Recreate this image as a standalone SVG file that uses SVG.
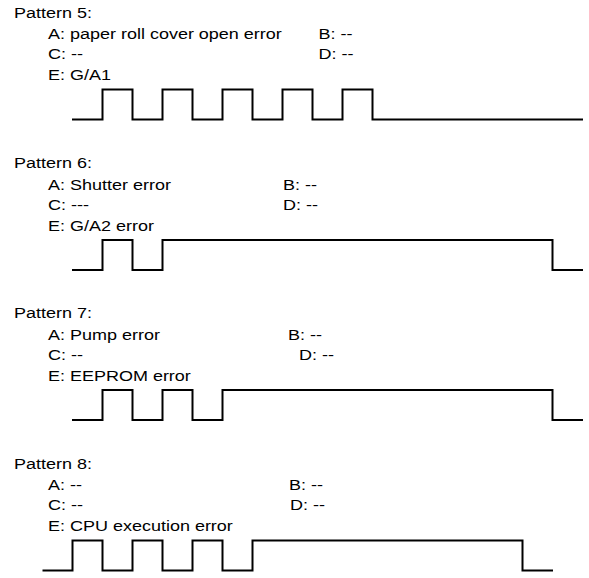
<svg xmlns="http://www.w3.org/2000/svg" width="589" height="578" viewBox="0 0 589 578">
<style>
text{font-family:"Liberation Sans",Arial,sans-serif;font-size:15px;fill:#000}
.w{fill:none;stroke:#000;stroke-width:2;stroke-linejoin:miter;stroke-linecap:butt}
</style>
<rect width="589" height="578" fill="#fff"/>
<g id="pattern5">
<text transform="translate(14,17.5) scale(1.2,1)">Pattern 5:</text>
<text transform="translate(48,39) scale(1.2,1)">A: paper roll cover open error</text>
<text transform="translate(318.5,39) scale(1.2,1)">B: --</text>
<text transform="translate(48,59) scale(1.2,1)">C: --</text>
<text transform="translate(318.5,59) scale(1.2,1)">D: --</text>
<text transform="translate(48,80) scale(1.2,1)">E: G/A1</text>
</g>
<g id="pattern6">
<text transform="translate(14,168) scale(1.2,1)">Pattern 6:</text>
<text transform="translate(48,189.5) scale(1.2,1)">A: Shutter error</text>
<text transform="translate(283,189.5) scale(1.2,1)">B: --</text>
<text transform="translate(48,209.5) scale(1.2,1)">C: ---</text>
<text transform="translate(283,209.5) scale(1.2,1)">D: --</text>
<text transform="translate(48,230.5) scale(1.2,1)">E: G/A2 error</text>
</g>
<g id="pattern7">
<text transform="translate(14,318) scale(1.2,1)">Pattern 7:</text>
<text transform="translate(48,339.5) scale(1.2,1)">A: Pump error</text>
<text transform="translate(288,339.5) scale(1.2,1)">B: --</text>
<text transform="translate(48,359.5) scale(1.2,1)">C: --</text>
<text transform="translate(299,359.5) scale(1.2,1)">D: --</text>
<text transform="translate(48,380.5) scale(1.2,1)">E: EEPROM error</text>
</g>
<g id="pattern8">
<text transform="translate(14,468.5) scale(1.2,1)">Pattern 8:</text>
<text transform="translate(48,490) scale(1.2,1)">A: --</text>
<text transform="translate(289,490) scale(1.2,1)">B: --</text>
<text transform="translate(48,510) scale(1.2,1)">C: --</text>
<text transform="translate(290,510) scale(1.2,1)">D: --</text>
<text transform="translate(48,531) scale(1.2,1)">E: CPU execution error</text>
</g>
<g id="waveforms">
<path class="w" d="M72 119.5H102.5V89.5H132.5V119.5H162.5V89.5H192.5V119.5H222.5V89.5H252.5V119.5H282.5V89.5H312.5V119.5H342.5V89.5H372.5V119.5H583"/>
<path class="w" d="M72 270H102.5V240H132.5V270H162.5V240H552.5V270H583"/>
<path class="w" d="M72 420H102.5V390H132.5V420H162.5V390H192.5V420H222.5V390H552.5V420H583"/>
<path class="w" d="M42.5 570.5H72.5V540.5H102.5V570.5H132.5V540.5H162.5V570.5H192.5V540.5H222.5V570.5H252.5V540.5H522.5V570.5H553"/>
</g>
</svg>
